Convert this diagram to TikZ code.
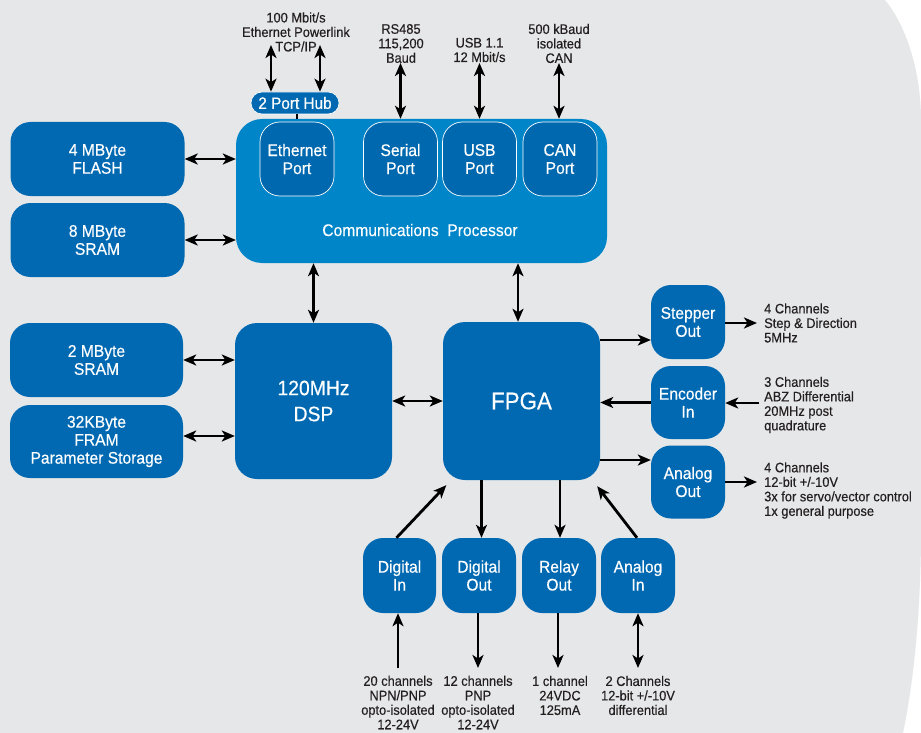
\documentclass[tikz,border=0pt]{standalone}
\usepackage{fontspec}
\setmainfont[FakeStretch=0.93,FakeBold=0.35]{Liberation Sans}
\usetikzlibrary{arrows.meta}
\definecolor{bg}{RGB}{230,231,232}
\definecolor{dblue}{RGB}{0,105,178}
\definecolor{lblue}{RGB}{0,134,200}
\definecolor{pblue}{RGB}{0,104,174}
\definecolor{ink}{RGB}{35,31,32}
\begin{document}
\begin{tikzpicture}[x=1pt,y=-1pt,
  blk/.style={fill=dblue, rounded corners=20pt, text=white, align=center, inner sep=0pt,
    font=\fontsize{16.8}{18}\selectfont},
  port/.style={fill=pblue, draw=white, line width=0.7pt, rounded corners=20pt, text=white,
    align=center, inner sep=0pt, minimum width=74pt, minimum height=74pt,
    font=\fontsize{16.8}{18}\selectfont},
  lbl/.style={text=ink, inner sep=0pt, align=center, font=\fontsize{13.8}{14.5}\selectfont},
  lbll/.style={text=ink, inner sep=0pt, align=left, anchor=west, font=\fontsize{13.8}{14.5}\selectfont},
  tip/.tip={Stealth[length=13pt,width=11pt,inset=3.5pt]},
  arr/.style={line width=2.8pt, -tip},
  dbl/.style={line width=2.8pt, tip-tip}
]
\useasboundingbox (0,0) rectangle (921,733);
\fill[white] (0,0) rectangle (921,733);
\fill[bg] (0,0) -- (885,0) .. controls (908,28) and (921,75) .. (921,120) -- (921,530)
  .. controls (921,610) and (914,680) .. (903,733) -- (0,733) -- cycle;

% left memories
\node[blk, minimum width=174pt, minimum height=74pt] (flash) at (97.5,159) {4 MByte\\FLASH};
\node[blk, minimum width=174pt, minimum height=74pt] (sram8) at (97.5,240) {8 MByte\\SRAM};
\node[blk, minimum width=173pt, minimum height=74pt] (sram2) at (96.5,360) {2 MByte\\SRAM};
\node[blk, minimum width=173pt, minimum height=73pt] (fram) at (96.5,441.5) {32KByte\\FRAM\\Parameter Storage};

% communications processor
\node[fill=lblue, rounded corners=26pt, minimum width=371pt, minimum height=144pt, inner sep=0pt] (comm) at (421.5,191) {};
\node[text=white, inner sep=0pt, font=\fontsize{16.8}{18}\selectfont] (commlbl) at (420,230) {Communications\ \ Processor};
\node[port] (eth) at (297,159) {Ethernet\\Port};
\node[port] (ser) at (400.5,159) {Serial\\Port};
\node[port] (usb) at (479.5,159) {USB\\Port};
\node[port] (can) at (560,159) {CAN\\Port};

% hub
\node[fill=dblue, draw=white, line width=0.6pt, rounded corners=11pt, minimum width=88pt, minimum height=22pt,
  inner sep=0pt, text=white, font=\fontsize{16.5}{18}\selectfont] (hub) at (295,103) {2 Port Hub};
\draw[line width=2.6pt] ([xshift=2pt]hub.south) -- ([xshift=2pt]hub.south |- comm.north);

% top labels
\node[lbl] (ethlbl) at (296,32) {100 Mbit/s\\Ethernet Powerlink\\TCP/IP};
\node[lbl] (serlbl) at (401,43.5) {RS485\\115,200\\Baud};
\node[lbl] (usblbl) at (479.5,50) {USB 1.1\\12 Mbit/s};
\node[lbl] (canlbl) at (559,43.5) {500 kBaud\\isolated\\CAN};
\coordinate (e1) at (271,45);
\coordinate (e2) at (320,45);
\coordinate (s1) at (400.5,63);
\coordinate (u1) at (479.5,63);
\coordinate (c1) at (559,63);
\draw[dbl] (e1) -- (e1 |- hub.north);
\draw[dbl] (e2) -- (e2 |- hub.north);
\draw[dbl] (s1) -- (s1 |- comm.north);
\draw[dbl] (u1) -- (u1 |- comm.north);
\draw[dbl] (c1) -- (c1 |- comm.north);

% memory arrows
\draw[dbl] (flash.east) -- (flash.east -| comm.west);
\draw[dbl] (sram8.east) -- (sram8.east -| comm.west);

% DSP and FPGA
\node[blk, rounded corners=22pt, minimum width=157pt, minimum height=156pt,
  font=\fontsize{20.8}{26}\selectfont] (dsp) at (313.5,401) {120MHz\\DSP};
\node[blk, rounded corners=22pt, minimum width=157pt, minimum height=158pt,
  font=\fontsize{24}{26}\selectfont] (fpga) at (521.5,401) {FPGA};

\draw[dbl] (sram2.east) -- (sram2.east -| dsp.west);
\draw[dbl] ([yshift=5.5pt]fram.east) -- ([yshift=5.5pt]fram.east -| dsp.west);
\draw[dbl] (dsp.east) -- (dsp.east -| fpga.west);
\draw[dbl] (comm.south -| dsp.north) -- (dsp.north);
\draw[dbl] ([xshift=-3.5pt]comm.south -| fpga.north) -- ([xshift=-3.5pt]fpga.north);

% right blocks
\node[blk, minimum width=74pt, minimum height=74pt] (step) at (688,322) {Stepper\\Out};
\node[blk, minimum width=74pt, minimum height=73pt] (enc) at (688,402.5) {Encoder\\In};
\node[blk, minimum width=74pt, minimum height=73pt] (aout) at (688,482) {Analog\\Out};

\coordinate (st) at ([yshift=-18pt]step.west);
\draw[arr] (st -| fpga.east) -- (st);
\draw[arr] (enc.west) -- (enc.west -| fpga.east);
\coordinate (ao) at ([yshift=22pt]aout.west);
\draw[arr] (ao -| fpga.east) -- (ao);

\node[lbll] (steplbl) at (764,323) {4 Channels\\Step \& Direction\\5MHz};
\node[lbll] (enclbl) at (764,405) {3 Channels\\ABZ Differential\\20MHz post\\quadrature};
\node[lbll] (aoutlbl) at (764,490.5) {4 Channels\\12-bit +/-10V\\3x for servo/vector control\\1x general purpose};
\coordinate (sto) at (757,323);
\coordinate (eni) at (759,403);
\coordinate (aoo) at (757,482);
\draw[arr] (step.east |- sto) -- (sto);
\draw[arr] (eni) -- (eni -| enc.east);
\draw[arr] (aout.east |- aoo) -- (aoo);

% bottom blocks
\node[blk, minimum width=73pt, minimum height=75pt] (din) at (399.5,575.5) {Digital\\In};
\node[blk, minimum width=74pt, minimum height=75pt] (dout) at (479,575.5) {Digital\\Out};
\node[blk, minimum width=74pt, minimum height=75pt] (rly) at (559,575.5) {Relay\\Out};
\node[blk, minimum width=74pt, minimum height=75pt] (ain) at (638,575.5) {Analog\\In};

\draw[arr] ([xshift=-3pt]din.north) -- ([xshift=3.5pt,yshift=-5pt]fpga.south west);
\draw[arr] ([xshift=-1pt]ain.north) -- ([xshift=-3pt,yshift=-6pt]fpga.south east);
\draw[arr] ([xshift=2.5pt]dout.north |- fpga.south) -- ([xshift=2.5pt]dout.north);
\draw[arr] ([xshift=1pt]rly.north |- fpga.south) -- ([xshift=1pt]rly.north);

\node[lbl] (dinlbl) at (398,702.5) {20 channels\\NPN/PNP\\opto-isolated\\12-24V};
\node[lbl] (doutlbl) at (478,702.5) {12 channels\\PNP\\opto-isolated\\12-24V};
\node[lbl] (rlylbl) at (560,695.5) {1 channel\\24VDC\\125mA};
\node[lbl] (ainlbl) at (638,695.5) {2 Channels\\12-bit +/-10V\\differential};
\coordinate (dib) at (398,668);
\coordinate (dob) at (478,668);
\coordinate (rlb) at (558,668);
\coordinate (aib) at (638,668);
\draw[arr] (dib) -- (dib |- din.south);
\draw[arr] (dob |- dout.south) -- (dob);
\draw[arr] (rlb |- rly.south) -- (rlb);
\draw[dbl] (aib |- ain.south) -- (aib);
\end{tikzpicture}
\end{document}
